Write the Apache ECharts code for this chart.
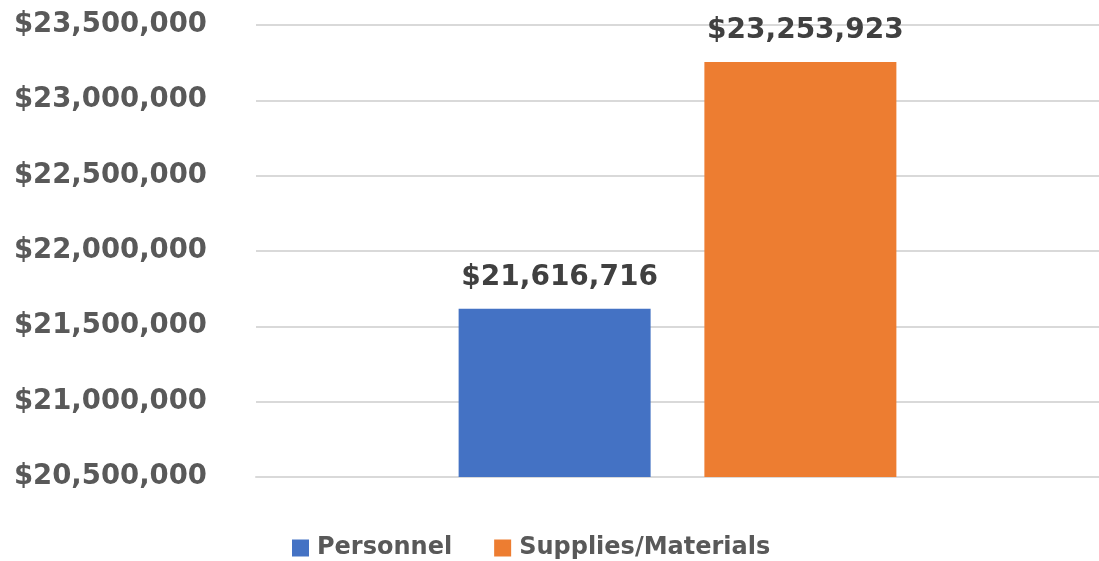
<!DOCTYPE html>
<html>
<head>
<meta charset="utf-8">
<script src="https://cdn.jsdelivr.net/npm/echarts@6/dist/echarts.min.js"></script>
<style>
html,body{margin:0;padding:0;background:#fff;}
#chart{width:1099px;height:561px;}
</style>
</head>
<body>
<div id="chart"></div>
<script>
var categories = ['Budget'];
var seriesNames = ['Personnel', 'Supplies/Materials'];
var personnel = [21616716];
var supplies = [23253923];
var colors = ['#4472C4', '#ED7D31'];
var yMin = 20500000, yMax = 23500000, yStep = 500000;

function money(v) {
  return '$' + Math.round(v).toString().replace(/\B(?=(\d{3})+(?!\d))/g, ',');
}

var FONT = '"DejaVu Sans", sans-serif';
var chart = echarts.init(document.getElementById('chart'));
var labelStyle = {
  show: true, position: 'top', distance: 17, offset: [5, 0],
  fontFamily: FONT, fontWeight: 'bold', fontSize: 28, color: '#404040',
  formatter: function (p) { return money(p.value); }
};
chart.setOption({
  animation: false,
  color: colors,
  grid: { left: 256, right: 0, top: 25, bottom: 84, containLabel: false },
  legend: {
    data: seriesNames, left: 287, top: 531,
    itemWidth: 17, itemHeight: 17, itemGap: 42,
    icon: 'rect',
    textStyle: { fontFamily: FONT, fontWeight: 'bold', fontSize: 24, color: '#595959', padding: [0, 0, 0, 3] }
  },
  xAxis: {
    type: 'category', data: categories,
    axisLine: { show: true, lineStyle: { color: '#d9d9d9', width: 2 } },
    axisTick: { show: false }, axisLabel: { show: false }
  },
  yAxis: {
    type: 'value', min: yMin, max: yMax, interval: yStep,
    axisLine: { show: false }, axisTick: { show: false },
    splitLine: { lineStyle: { color: '#d9d9d9', width: 2 } },
    axisLabel: {
      margin: 49, fontFamily: FONT, fontWeight: 'bold', fontSize: 27.5, color: '#595959',
      formatter: function (v) { return money(v); }
    }
  },
  series: [
    { name: seriesNames[0], type: 'bar', data: personnel, barWidth: 192, barGap: '28%', label: labelStyle },
    { name: seriesNames[1], type: 'bar', data: supplies, barWidth: 192, barGap: '28%', label: labelStyle }
  ]
});
</script>
</body>
</html>
